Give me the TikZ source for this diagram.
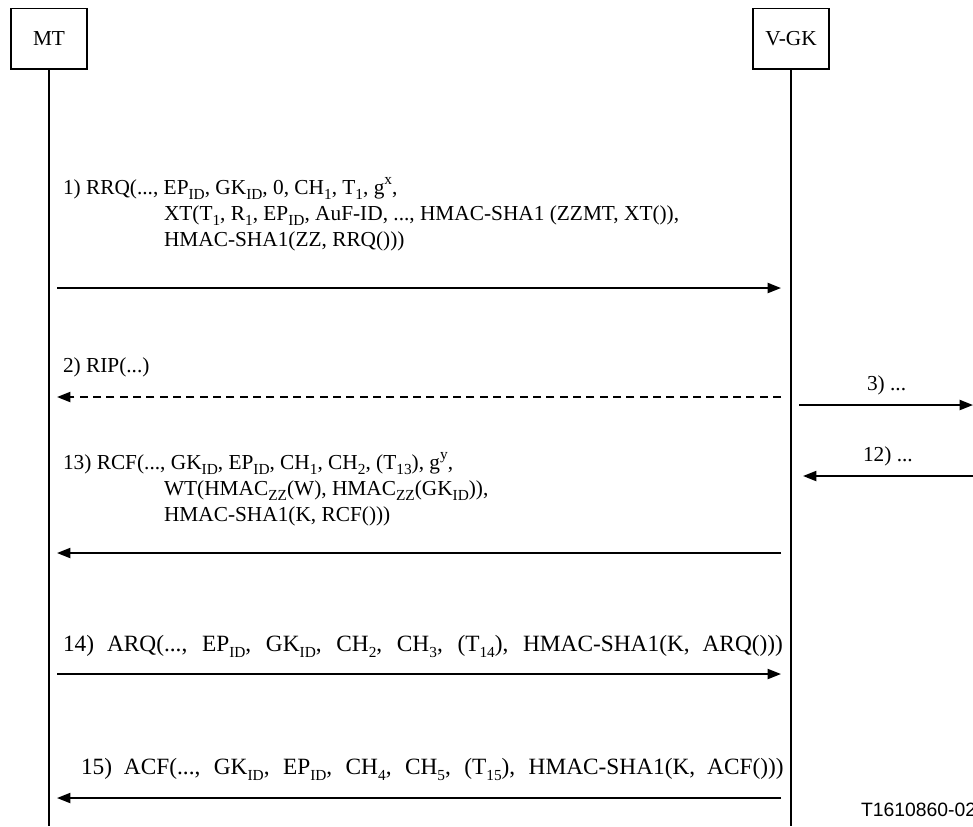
\documentclass[tikz,border=0pt]{standalone}
\usepackage{fontspec}
\setmainfont{Liberation Serif}
\newfontfamily\figfont{Liberation Sans}
\usetikzlibrary{positioning, arrows.meta}
\newcommand{\lo}[1]{\raisebox{-0.28em}{\fontsize{11.5}{11.5}\selectfont #1}}
\newcommand{\hi}[1]{\raisebox{0.45em}{\fontsize{11.5}{11.5}\selectfont #1}}

\begin{document}
\begin{tikzpicture}[x=0.75pt, y=-0.75pt, >={Triangle[length=10pt, width=7.5pt]}, line width=1.5pt, every node/.style={font=\fontsize{16}{19}\selectfont}, entity/.style={draw, line width=1pt, minimum width=57pt, minimum height=45.5pt, inner sep=0pt}, msg/.style={->}, reply/.style={->, dash pattern=on 6pt off 4pt}, txt/.style={anchor=base west, inner sep=0pt}, wide/.style={font=\fontsize{17.5}{20}\selectfont}]
    \useasboundingbox (0,0) rectangle (973,826);

    % entities and lifelines
    \node[entity] (mt) at (49,38.5) {MT};
    \node[entity] (vgk) at (791,38.5) {V-GK};
    \coordinate (mtend) at (49,826);
    \coordinate (vgkend) at (791,826);
    \draw (mt.south) -- (mtend);
    \draw (vgk.south) -- (vgkend);

    % end points of the messages
    \coordinate (mt1) at (57,288);   \coordinate (gk1) at (781,288);
    \coordinate (mt2) at (57,397);   \coordinate (gk2) at (781,397);
    \coordinate (gk3) at (799,405);  \coordinate (out3) at (973,405);
    \coordinate (gk12) at (803,476); \coordinate (out12) at (973,476);
    \coordinate (mt13) at (57,553);  \coordinate (gk13) at (781,553);
    \coordinate (mt14) at (57,674);  \coordinate (gk14) at (781,674);
    \coordinate (mt15) at (57,798);  \coordinate (gk15) at (781,798);

    % 1) RRQ
    \node[txt] (rrqa) at (62,194) {1) RRQ(..., EP\lo{ID}, GK\lo{ID}, 0, CH\lo{1}, T\lo{1}, g\hi{x},};
    \node[txt] (rrqb) at (163,220) {XT(T\lo{1}, R\lo{1}, EP\lo{ID}, AuF-ID, ..., HMAC-SHA1 (ZZMT, XT()),};
    \node[txt] (rrqc) at (163,246) {HMAC-SHA1(ZZ, RRQ()))};
    \draw[msg] (mt1) -- (gk1);

    % 2) RIP
    \node[txt] (rip) at (62,372) {2) RIP(...)};
    \draw[reply] (gk2) -- (mt2);

    % 3) and 12) towards the home side
    \node[txt] (fwd) at (866,390) {3) ...};
    \draw[msg] (gk3) -- (out3);
    \node[txt] (back) at (862,461) {12) ...};
    \draw[msg] (out12) -- (gk12);

    % 13) RCF
    \node[txt] (rcfa) at (62,469) {13) RCF(..., GK\lo{ID}, EP\lo{ID}, CH\lo{1}, CH\lo{2}, (T\lo{13}), g\hi{y},};
    \node[txt] (rcfb) at (163,495) {WT(HMAC\lo{ZZ}(W), HMAC\lo{ZZ}(GK\lo{ID})),};
    \node[txt] (rcfc) at (163,521) {HMAC-SHA1(K, RCF()))};
    \draw[msg] (gk13) -- (mt13);

    % 14) ARQ
    \node[txt, wide] (arq) at (62,651) {\makebox[540pt][s]{14) ARQ(..., EP\lo{ID}, GK\lo{ID}, CH\lo{2}, CH\lo{3}, (T\lo{14}), HMAC-SHA1(K, ARQ()))}};
    \draw[msg] (mt14) -- (gk14);

    % 15) ACF
    \node[txt, wide] (acf) at (80,774) {\makebox[527pt][s]{15) ACF(..., GK\lo{ID}, EP\lo{ID}, CH\lo{4}, CH\lo{5}, (T\lo{15}), HMAC-SHA1(K, ACF()))}};
    \draw[msg] (gk15) -- (mt15);

    \node[txt, font=\figfont\fontsize{14.5}{16}\selectfont] (ref) at (860,816) {T1610860-02};
\end{tikzpicture}
\end{document}
